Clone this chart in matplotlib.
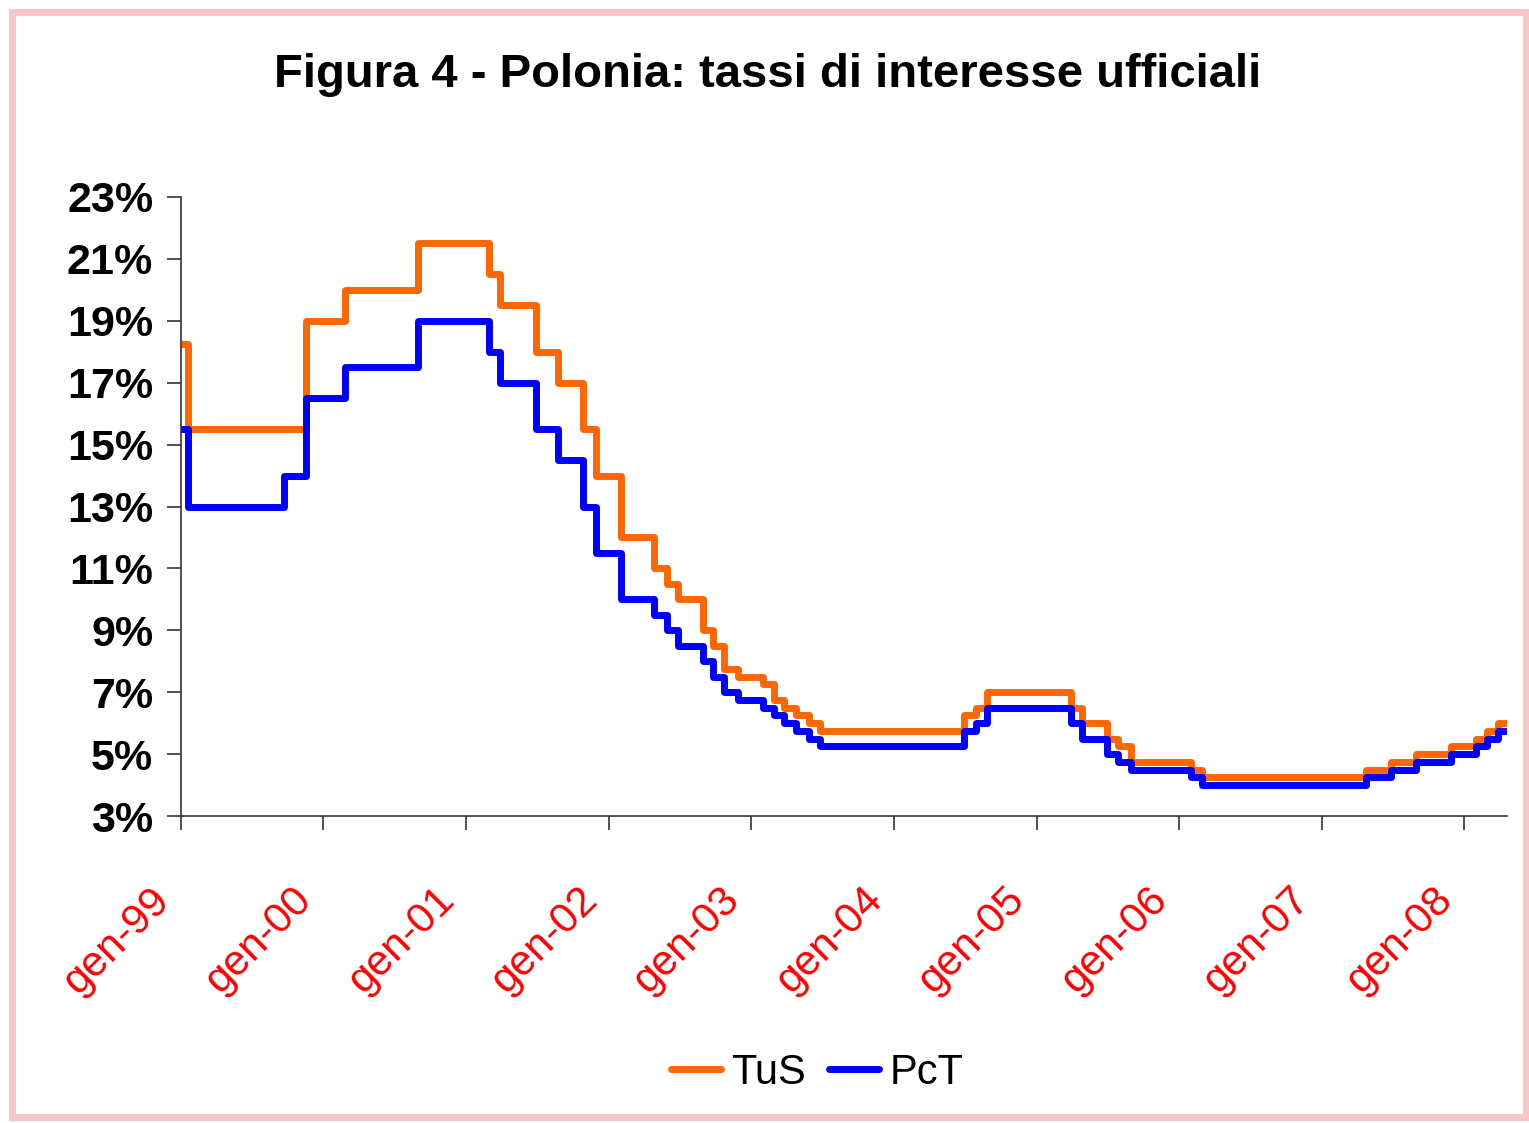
import pandas as pd
import matplotlib
matplotlib.use("Agg")
import matplotlib.pyplot as plt
import matplotlib.transforms as mtransforms
from matplotlib.patches import Rectangle

plt.rcParams['font.family'] = ['Liberation Sans', 'DejaVu Sans']

# date delle variazioni e livelli dei tassi (%)
tus_dates = ["1999-01-01", "1999-01-20", "1999-11-18", "2000-02-24", "2000-08-31",
             "2001-02-28", "2001-03-29", "2001-06-28", "2001-08-23", "2001-10-26",
             "2001-11-29", "2002-01-31", "2002-04-26", "2002-05-30", "2002-06-27",
             "2002-08-29", "2002-09-26", "2002-10-24", "2002-11-28", "2003-01-30",
             "2003-02-27", "2003-03-27", "2003-04-25", "2003-05-29", "2003-06-26",
             "2004-06-30", "2004-07-29", "2004-08-26", "2005-03-31", "2005-04-28",
             "2005-06-30", "2005-07-28", "2005-08-31", "2006-01-31", "2006-02-28",
             "2007-04-26", "2007-06-28", "2007-08-30", "2007-11-29", "2008-01-31",
             "2008-02-28", "2008-03-27"]
tus_values = [18.25, 15.5, 19.0, 20.0, 21.5,
              20.5, 19.5, 18.0, 17.0, 15.5,
              14.0, 12.0, 11.0, 10.5, 10.0,
              9.0, 8.5, 7.75, 7.5, 7.25,
              6.75, 6.5, 6.25, 6.0, 5.75,
              6.25, 6.5, 7.0, 6.5, 6.0,
              5.5, 5.25, 4.75, 4.5, 4.25,
              4.5, 4.75, 5.0, 5.25, 5.5,
              5.75, 6.0]

pct_dates = ["1999-01-01", "1999-01-20", "1999-09-23", "1999-11-18", "2000-02-24",
             "2000-08-31", "2001-02-28", "2001-03-29", "2001-06-28", "2001-08-23",
             "2001-10-26", "2001-11-29", "2002-01-31", "2002-04-26", "2002-05-30",
             "2002-06-27", "2002-08-29", "2002-09-26", "2002-10-24", "2002-11-28",
             "2003-01-30", "2003-02-27", "2003-03-27", "2003-04-25", "2003-05-29",
             "2003-06-26", "2004-06-30", "2004-07-29", "2004-08-26", "2005-03-31",
             "2005-04-28", "2005-06-30", "2005-07-28", "2005-08-31", "2006-01-31",
             "2006-02-28", "2007-04-26", "2007-06-28", "2007-08-30", "2007-11-29",
             "2008-01-31", "2008-02-28", "2008-03-27"]
pct_values = [15.5, 13.0, 14.0, 16.5, 17.5,
              19.0, 18.0, 17.0, 15.5, 14.5,
              13.0, 11.5, 10.0, 9.5, 9.0,
              8.5, 8.0, 7.5, 7.0, 6.75,
              6.5, 6.25, 6.0, 5.75, 5.5,
              5.25, 5.75, 6.0, 6.5, 6.0,
              5.5, 5.0, 4.75, 4.5, 4.25,
              4.0, 4.25, 4.5, 4.75, 5.0,
              5.25, 5.5, 5.75]

end_date = "2008-04-20"
year_ticks = [str(y) for y in range(1999, 2009)]
y_ticks = list(range(3, 24, 2))

fig = plt.figure(figsize=(15.29, 11.23), dpi=100)
ax = fig.add_axes([181/1529, 1 - 816/1123, (1507-181)/1529, (816-197)/1123])

def serie(dates, values):
    d = pd.to_datetime(dates + [end_date])
    v = values + [values[-1]]
    return d, v

d1, v1 = serie(tus_dates, tus_values)
d2, v2 = serie(pct_dates, pct_values)
ax.step(d1, v1, where='post', color='#FF6600', lw=5, solid_joinstyle='round',
        solid_capstyle='round', label='TuS')
ax.step(d2, v2, where='post', color='#0000FF', lw=5, solid_joinstyle='round',
        solid_capstyle='round', label='PcT')

ax.set_xlim(pd.Timestamp("1999-01-01"), pd.Timestamp(end_date))
ax.set_ylim(3, 23)
ax.set_yticks(y_ticks)
ax.set_yticklabels([f"{v}%" for v in y_ticks], fontsize=31, fontweight='bold')
ax.set_xticks(pd.to_datetime([y + "-01-01" for y in year_ticks]))
ax.set_xticklabels(["gen-" + y[2:] for y in year_ticks], fontsize=30.5, color='#FF0000',
                   rotation=45, ha='right', rotation_mode='anchor')
ax.tick_params(axis='both', direction='out', length=10, width=1.2, color='#333333')
ax.tick_params(axis='x', pad=36)
ax.tick_params(axis='y', pad=10)
shift = mtransforms.ScaledTranslation(-32/100, 0, fig.dpi_scale_trans)
for lab in ax.get_xticklabels():
    lab.set_transform(lab.get_transform() + shift)
for s in ['top', 'right']:
    ax.spines[s].set_visible(False)
for s in ['left', 'bottom']:
    ax.spines[s].set_linewidth(1.2)
    ax.spines[s].set_color('#333333')

fig.text(768/1529, 1 - 75/1123, "Figura 4 - Polonia: tassi di interesse ufficiali",
         ha='center', va='center', fontsize=34, fontweight='bold')

leg = fig.legend(loc='center', bbox_to_anchor=(817/1529, 1 - 1073/1123), ncol=2, frameon=False,
                 fontsize=30, handlelength=1.2, handletextpad=0.25, columnspacing=0.55)

fig.patches.append(Rectangle((11.5/1529, 6/1123), 1 - 14.5/1529, 1 - 17.5/1123,
                             transform=fig.transFigure, fill=False,
                             edgecolor='#F8C6C6', lw=5))

fig.savefig("out.png", dpi=100)
